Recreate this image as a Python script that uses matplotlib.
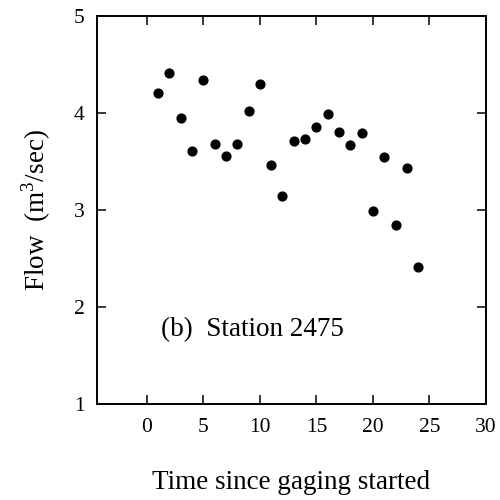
import matplotlib
matplotlib.use("Agg")
import matplotlib.pyplot as plt

time = [1, 2, 3, 4, 5, 6, 7, 8, 9, 10, 11, 12, 13, 14, 15, 16, 17, 18, 19, 20, 21, 22, 23, 24]
flow = [4.21, 4.41, 3.95, 3.61, 4.34, 3.68, 3.56, 3.68, 4.02, 4.30, 3.46, 3.14,
        3.71, 3.73, 3.86, 3.99, 3.80, 3.67, 3.79, 2.99, 3.55, 2.85, 3.43, 2.41]
xticks = [0, 5, 10, 15, 20, 25, 30]
yticks = [1, 2, 3, 4, 5]

plt.rcParams['font.family'] = ['Liberation Serif', 'DejaVu Serif']
plt.rcParams['mathtext.fontset'] = 'custom'
plt.rcParams['mathtext.rm'] = 'Liberation Serif'

fig = plt.figure(figsize=(5, 5), dpi=100)
ax = fig.add_axes([0.194, 0.192, 0.778, 0.776])
ax.scatter(time, flow, s=40, color='black', zorder=3)
ax.set_xlim(-4.4, 30)
ax.set_ylim(1, 5)
ax.set_xticks(xticks)
ax.set_yticks(yticks)
ax.tick_params(direction='in', length=6.5, width=1.1, top=True, right=True,
               labelsize=15.5, pad=10)
ax.tick_params(axis='y', pad=9)
for s in ax.spines.values():
    s.set_linewidth(1.4)
ax.set_xlabel('Time since gaging started', fontsize=19.5, labelpad=24)
ax.set_ylabel('Flow  (m$^3$/sec)', fontsize=19.5, labelpad=15)
ax.text(1.3, 1.70, '(b)  Station 2475', fontsize=19.5, va='baseline', ha='left')
fig.savefig('out.png', dpi=100)
